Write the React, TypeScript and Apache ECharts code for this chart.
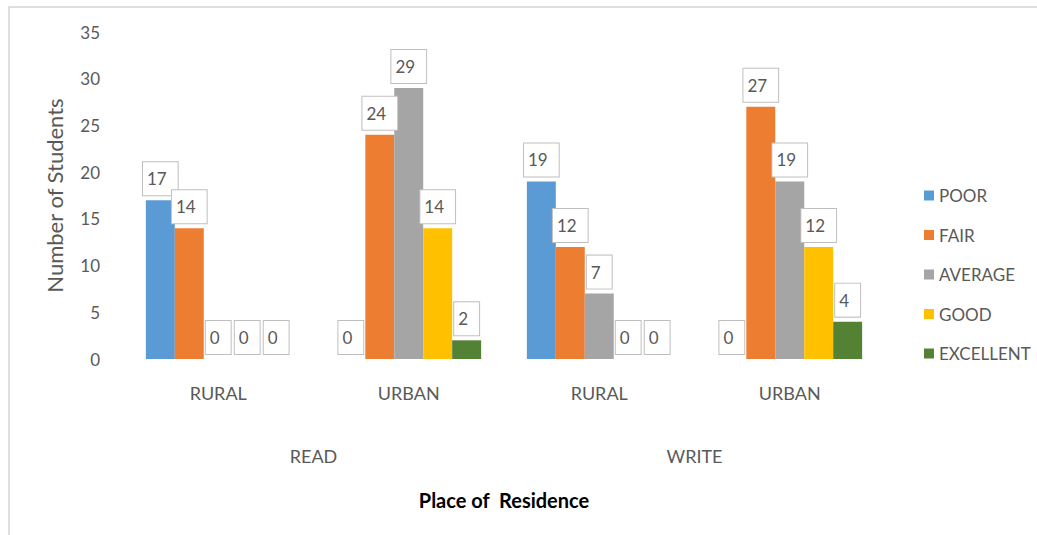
import React, { useEffect, useRef } from "react";
import * as echarts from "echarts";

const places = ["RURAL", "URBAN", "RURAL", "URBAN"];
const skills = ["READ", "WRITE"];
const poor = [17, 0, 19, 0];
const fair = [14, 24, 12, 27];
const average = [0, 29, 7, 19];
const good = [0, 14, 0, 12];
const excellent = [0, 2, 0, 4];
const yTicks = { min: 0, max: 35, interval: 5 };

const FONT = "Lato";
const GREY = "#595959";

export default function App() {
  const ref = useRef<HTMLDivElement>(null);
  useEffect(() => {
    if (!ref.current) return;
    const chart = echarts.init(ref.current, null, { renderer: "svg" });
    const label = {
      show: true,
      position: "top",
      distance: 5,
      color: GREY,
      fontFamily: FONT,
      fontSize: 17,
      backgroundColor: "#fff",
      borderColor: "#BFBFBF",
      borderWidth: 1,
      padding: [8, 11, 8, 4],
    };
    const mk = (name: string, data: number[], color: string) => ({
      name,
      type: "bar",
      data,
      xAxisIndex: 0,
      barGap: "0%",
      barCategoryGap: "24%",
      itemStyle: { color },
      label,
    });
    chart.setOption({
      animation: false,
      textStyle: { fontFamily: FONT },
      graphic: [
        {
          type: "polyline",
          shape: { points: [[9, 535], [9, 7], [1037, 7]] },
          style: { stroke: "#D6D6D6", lineWidth: 1.5, fill: "none" },
          silent: true,
        },
      ],
      grid: { left: 123, right: 152, top: 32, bottom: 176 },
      legend: {
        orient: "vertical",
        left: 919,
        top: 182,
        icon: "rect",
        itemWidth: 10,
        itemHeight: 10,
        itemGap: 22.5,
        textStyle: { color: GREY, fontFamily: FONT, fontSize: 17, lineHeight: 17 },
        data: ["POOR", "FAIR", "AVERAGE", "GOOD", "EXCELLENT"],
      },
      xAxis: [
        {
          type: "category",
          data: places,
          position: "bottom",
          axisLine: { show: false },
          axisTick: { show: false },
          axisLabel: { color: GREY, fontFamily: FONT, fontSize: 18, margin: 25 },
          name: "Place of  Residence",
          nameLocation: "middle",
          nameGap: 131,
          nameTextStyle: { color: "#000", fontFamily: FONT, fontSize: 20, fontWeight: "bold", verticalAlign: "top" },
        },
        {
          type: "category",
          data: skills,
          position: "bottom",
          offset: 63,
          axisLine: { show: false },
          axisTick: { show: false },
          axisLabel: { color: GREY, fontFamily: FONT, fontSize: 18, margin: 25 },
        },
      ],
      yAxis: {
        type: "value",
        min: yTicks.min,
        max: yTicks.max,
        interval: yTicks.interval,
        splitLine: { show: false },
        axisLine: { show: false },
        axisTick: { show: false },
        axisLabel: { color: GREY, fontFamily: FONT, fontSize: 17, margin: 23 },
        name: "Number of Students",
        nameLocation: "middle",
        nameGap: 58,
        nameTextStyle: { color: GREY, fontFamily: FONT, fontSize: 22 },
      },
      series: [
        mk("POOR", poor, "#5B9BD5"),
        mk("FAIR", fair, "#ED7D31"),
        mk("AVERAGE", average, "#A5A5A5"),
        mk("GOOD", good, "#FFC000"),
        mk("EXCELLENT", excellent, "#548235"),
      ],
    });
    return () => chart.dispose();
  }, []);
  return (
    <div
      ref={ref}
      style={{ position: "fixed", left: 0, top: 0, width: 1037, height: 535, background: "#fff" }}
    />
  );
}
